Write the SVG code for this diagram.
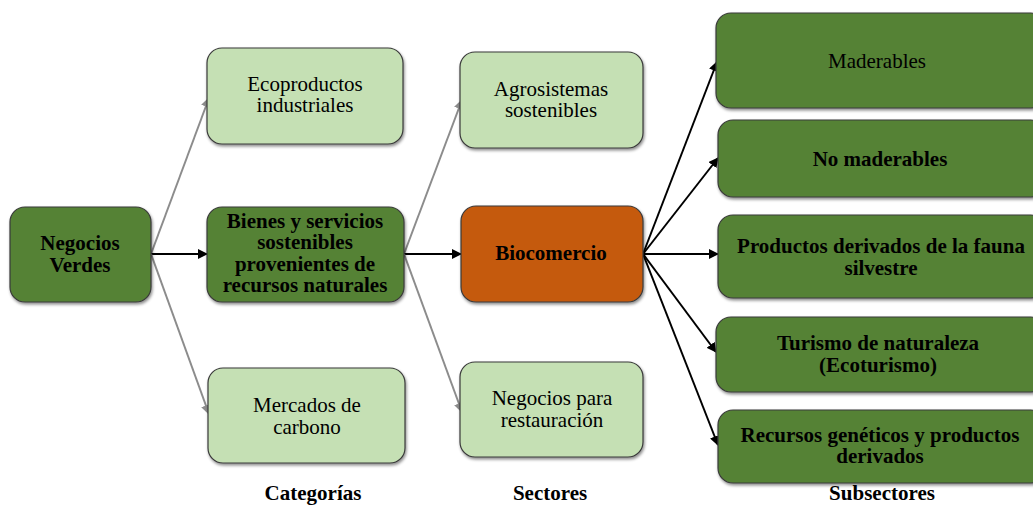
<svg xmlns="http://www.w3.org/2000/svg" width="1033" height="506" viewBox="0 0 1033 506" font-family="Liberation Serif, serif">
<style>
.n{stroke:#3a3a3a;stroke-width:1.2;filter:url(#sh)}
.dk{fill:#548235}
.lt{fill:#C5E0B4}
.or{fill:#C55A11}
text{font-size:21px;fill:#000;text-anchor:middle}
.b{font-weight:bold}
.cap{font-weight:bold}
.g{stroke:#8c8c8c;stroke-width:2;fill:none;marker-end:url(#ag)}
.k{stroke:#000;stroke-width:2;fill:none;marker-end:url(#ak)}
</style>
<defs>
<filter id="sh" x="-10%" y="-10%" width="120%" height="130%">
<feDropShadow dx="1" dy="2" stdDeviation="1.5" flood-color="#000" flood-opacity="0.45"/>
</filter>
<marker id="ak" viewBox="0 0 10 10" refX="9" refY="5" markerWidth="5" markerHeight="5" orient="auto" markerUnits="strokeWidth">
<path d="M0,0L10,5L0,10z" fill="#000"/>
</marker>
<marker id="ag" viewBox="0 0 10 10" refX="9" refY="5" markerWidth="5" markerHeight="5" orient="auto" markerUnits="strokeWidth">
<path d="M0,0L10,5L0,10z" fill="#8c8c8c"/>
</marker>
</defs>
<rect width="1033" height="506" fill="#fff"/>
<g id="connectors">
<line class="g" x1="151" y1="254" x2="209" y2="98"/>
<line class="k" x1="151" y1="254" x2="207" y2="254"/>
<line class="g" x1="151" y1="254" x2="209" y2="414"/>
<line class="g" x1="404" y1="254" x2="462" y2="100"/>
<line class="k" x1="404" y1="254" x2="461" y2="254"/>
<line class="g" x1="404" y1="254" x2="462" y2="412"/>
<line class="k" x1="643" y1="254" x2="717" y2="62"/>
<line class="k" x1="643" y1="254" x2="718" y2="158"/>
<line class="k" x1="643" y1="254" x2="718" y2="254"/>
<line class="k" x1="643" y1="254" x2="716" y2="352"/>
<line class="k" x1="643" y1="254" x2="718" y2="445"/>
</g>
<g id="negocios-verdes">
<rect class="n dk" x="10" y="207" width="141" height="95" rx="15"/>
<text class="b" x="80" y="250">Negocios</text>
<text class="b" x="80" y="272">Verdes</text>
</g>
<g id="ecoproductos">
<rect class="n lt" x="207" y="48" width="196" height="96" rx="15"/>
<text x="305" y="91">Ecoproductos</text>
<text x="305" y="112">industriales</text>
</g>
<g id="bienes">
<rect class="n dk" x="207" y="207" width="197" height="95" rx="15"/>
<text class="b" x="305" y="228">Bienes y servicios</text>
<text class="b" x="305" y="249">sostenibles</text>
<text class="b" x="305" y="271">provenientes de</text>
<text class="b" x="305" y="292">recursos naturales</text>
</g>
<g id="mercados">
<rect class="n lt" x="208" y="368" width="197" height="95" rx="15"/>
<text x="307" y="412">Mercados de</text>
<text x="307" y="434">carbono</text>
</g>
<g id="agrosistemas">
<rect class="n lt" x="460" y="52" width="183" height="96" rx="15"/>
<text x="551" y="96">Agrosistemas</text>
<text x="551" y="117">sostenibles</text>
</g>
<g id="biocomercio">
<rect class="n or" x="461" y="206" width="182" height="96" rx="15"/>
<text class="b" x="551" y="260">Biocomercio</text>
</g>
<g id="negocios-restauracion">
<rect class="n lt" x="460" y="362" width="183" height="95" rx="15"/>
<text x="552" y="405">Negocios para</text>
<text x="552" y="427">restauración</text>
</g>
<g id="maderables">
<rect class="n dk" x="716" y="13" width="330" height="95" rx="15"/>
<text x="877" y="68">Maderables</text>
</g>
<g id="no-maderables">
<rect class="n dk" x="718" y="120" width="328" height="77" rx="15"/>
<text class="b" x="880" y="166">No maderables</text>
</g>
<g id="fauna">
<rect class="n dk" x="718" y="215" width="328" height="83" rx="15"/>
<text class="b" x="881" y="253">Productos derivados de la fauna</text>
<text class="b" x="881" y="275">silvestre</text>
</g>
<g id="turismo">
<rect class="n dk" x="716" y="317" width="330" height="75" rx="15"/>
<text class="b" x="878" y="350">Turismo de naturaleza</text>
<text class="b" x="878" y="372">(Ecoturismo)</text>
</g>
<g id="recursos">
<rect class="n dk" x="718" y="410" width="328" height="73" rx="15"/>
<text class="b" x="880" y="442">Recursos genéticos y productos</text>
<text class="b" x="880" y="463">derivados</text>
</g>
<g id="labels">
<text class="cap" x="313" y="500" font-size="16.5">Categorías</text>
<text class="cap" x="550" y="500" font-size="17.5">Sectores</text>
<text class="cap" x="882" y="500" font-size="18">Subsectores</text>
</g>
</svg>
